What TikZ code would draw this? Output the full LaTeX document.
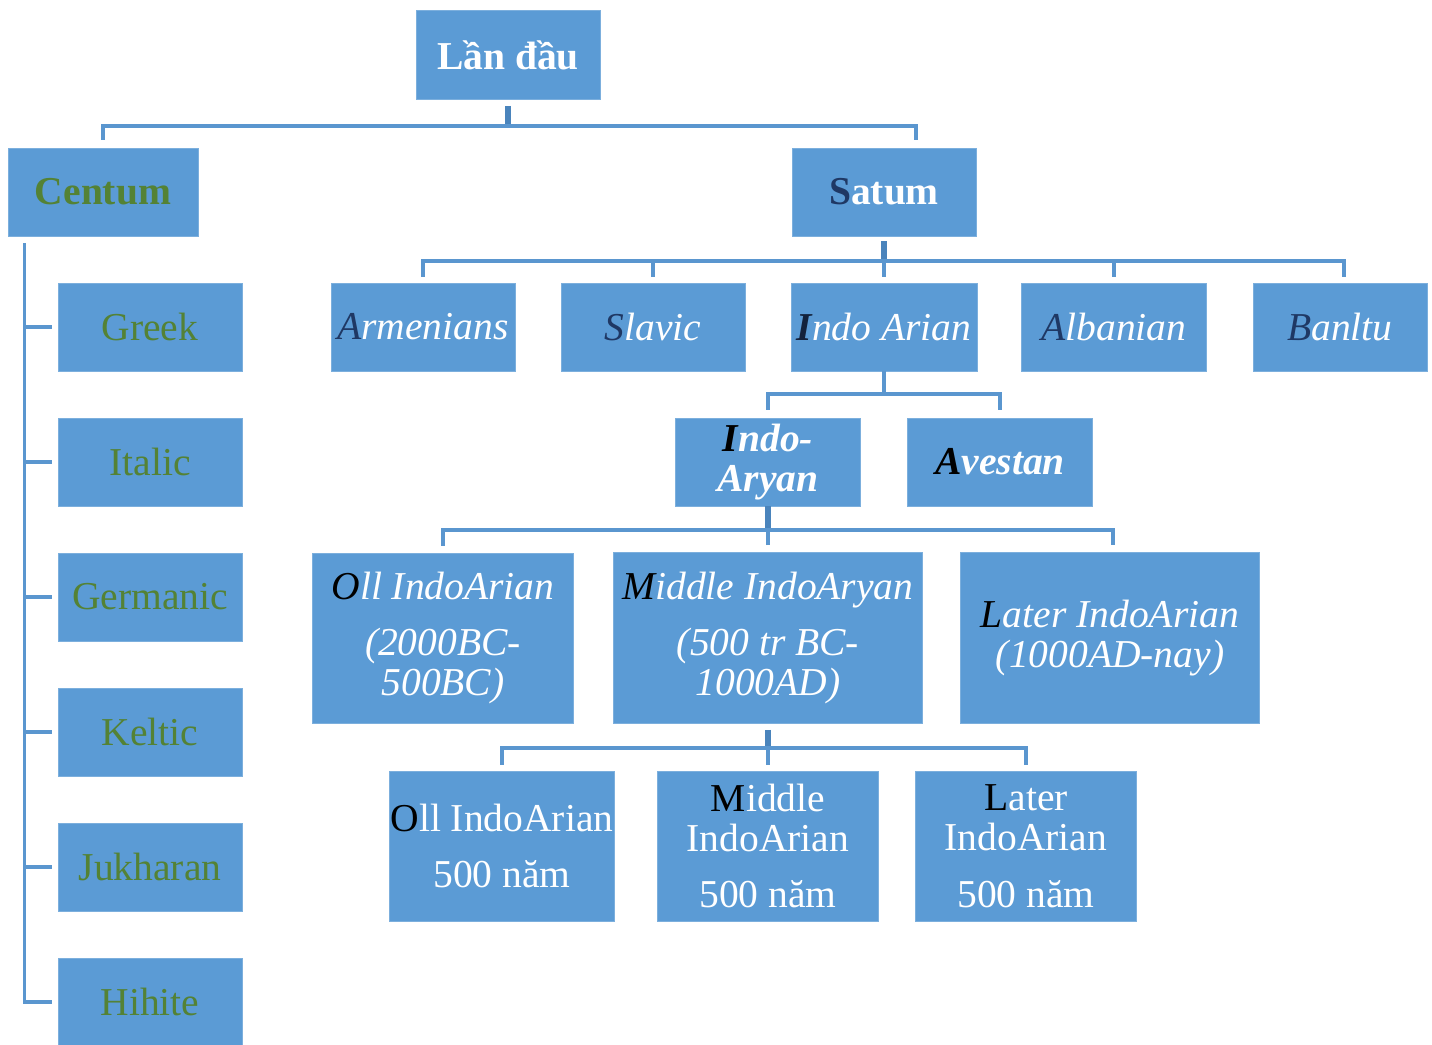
\documentclass[tikz,border=0pt]{standalone}
\usepackage{fontspec}
\setmainfont{Liberation Serif}
\usetikzlibrary{positioning}
\definecolor{boxblue}{HTML}{5B9BD5}
\definecolor{linkblue}{HTML}{5A96CF}
\definecolor{stubblue}{HTML}{4A84BC}
\definecolor{leafgreen}{HTML}{548235}
\definecolor{capnavy}{HTML}{1F3864}
\newcommand{\fl}[2]{\textcolor{#1}{#2}}

\begin{document}
\begin{tikzpicture}[x=0.02cm,y=-0.02cm,
	box/.style={fill=boxblue,draw=boxblue!80!white,line width=0.4pt,text=white,align=center,inner sep=0pt,
		minimum width=3.68cm,minimum height=1.76cm,font=\fontsize{22.5}{23}\selectfont},
	leaf/.style={box,text=leafgreen},
	link/.style={draw=linkblue,line width=1.8pt},
	stub/.style={draw=stubblue,line width=3.2pt}]
		\useasboundingbox (0,0) rectangle (1432,1044);
		\def\gap{9pt}
		
		%top
		\node[box,minimum height=1.78cm,font=\fontsize{22.5}{23}\selectfont\bfseries] (root) at (508,55) {Lần đầu};
		\node[leaf,minimum width=3.8cm,font=\fontsize{22.5}{23}\selectfont\bfseries] (centum) at (103,192) {Centum};
		\node[box,font=\fontsize{22.5}{23}\selectfont\bfseries] (satum) at (884,192) {\fl{capnavy}{S}atum};
		
		%centum branch
		\foreach \n/\t [count=\i from 0] in {greek/Greek,italic/Italic,germanic/Germanic,keltic/Keltic,jukharan/Jukharan,hihite/Hihite}{
			\node[leaf] (\n) at (150,{327+135*\i}) {\t};
		}
		
		%satum branch
		\node[box,font=\fontsize{22.5}{23}\selectfont\itshape] (armen) at (423,327) {\fl{capnavy}{A}rmenians};
		\node[box,font=\fontsize{22.5}{23}\selectfont\itshape] (slavic) at (653,327) {\fl{capnavy}{S}lavic};
		\node[box,minimum width=3.72cm,font=\fontsize{22.5}{23}\selectfont\itshape] (indoarian) at (884,327) {\fl{capnavy!60!black}{\bfseries I}ndo Arian};
		\node[box,minimum width=3.7cm,font=\fontsize{22.5}{23}\selectfont\itshape] (albanian) at (1114,327) {\fl{capnavy}{A}lbanian};
		\node[box,minimum width=3.48cm,font=\fontsize{22.5}{23}\selectfont\itshape] (banltu) at (1340,327) {\fl{capnavy}{B}anltu};
		
		\node[box,minimum width=3.7cm,font=\fontsize{22.5}{23}\selectfont\bfseries\itshape] (indoaryan) at (768,462) {\fl{black}{I}ndo-\\Aryan};
		\node[box,minimum width=3.7cm,font=\fontsize{22.5}{23}\selectfont\bfseries\itshape] (avestan) at (1000,462) {\fl{black}{A}vestan};
		
		\node[box,minimum width=5.22cm,minimum height=3.4cm,font=\fontsize{22.5}{23}\selectfont\itshape] (oldia) at (443,638) {\fl{black}{O}ll IndoArian\\[\gap](2000BC-\\500BC)};
		\node[box,minimum width=6.18cm,minimum height=3.42cm,font=\fontsize{22.5}{23}\selectfont\itshape] (middleia) at (768,638) {\fl{black}{M}iddle IndoAryan\\[\gap](500 tr BC-\\1000AD)};
		\node[box,minimum width=5.98cm,minimum height=3.42cm,font=\fontsize{22.5}{23}\selectfont\itshape] (lateria) at (1110,638) {\fl{black}{L}ater IndoArian\\(1000AD-nay)};
		
		\node[box,minimum width=4.5cm,minimum height=3cm] (oldb) at (502,846) {\fl{black}{O}ll IndoArian\\[\gap]500 năm};
		\node[box,minimum width=4.42cm,minimum height=3cm] (middleb) at (768,846) {\fl{black}{M}iddle\\IndoArian\\[\gap]500 năm};
		\node[box,minimum width=4.42cm,minimum height=3cm] (laterb) at (1026,846) {\fl{black}{L}ater\\IndoArian\\[\gap]500 năm};
		
		%connectors
		\coordinate (rootbar) at (508,126);
		\draw[stub] ([yshift=-0.12cm]root.south) -- (rootbar);
		\draw[link] ([yshift=0.16cm]centum.north) |- (rootbar) -| ([xshift=0.64cm,yshift=0.16cm]satum.north);
		
		\draw[link] ([xshift=0.34cm,yshift=-0.14cm]centum.south west) |- ([xshift=-0.12cm]hihite.west);
		\foreach \n in {greek,italic,germanic,keltic,jukharan}
			\draw[link] ([xshift=-0.12cm]\n.west) -- ++(-27,0);
		
		\coordinate (satbar) at (884,261);
		\draw[stub] ([yshift=-0.1cm]satum.south) -- (satbar);
		\draw[link] ([yshift=0.12cm]armen.north) |- (satbar) -| ([xshift=0.08cm,yshift=0.12cm]banltu.north);
		\foreach \n in {slavic,indoarian,albanian}
			\draw[link] ([yshift=0.12cm]\n.north) -- (\n.north |- satbar);
		
		\coordinate (iabar) at (884,394);
		\draw[link] (indoarian.south) -- (iabar);
		\draw[link] ([yshift=0.16cm]indoaryan.north) |- (iabar) -| ([yshift=0.16cm]avestan.north);
		
		\coordinate (iybar) at (768,530);
		\draw[stub] (indoaryan.south) -- (iybar);
		\draw[link] ([yshift=0.14cm]oldia.north) |- (iybar) -| ([xshift=0.06cm,yshift=0.14cm]lateria.north);
		\draw[link] ([yshift=0.14cm]middleia.north) -- (middleia.north |- iybar);
		
		\coordinate (mbar) at (768,748);
		\draw[stub] ([yshift=-0.12cm]middleia.south) -- (mbar);
		\draw[link] ([yshift=0.12cm]oldb.north) |- (mbar) -| ([yshift=0.12cm]laterb.north);
		\draw[link] ([yshift=0.12cm]middleb.north) -- (middleb.north |- mbar);
\end{tikzpicture}
\end{document}
